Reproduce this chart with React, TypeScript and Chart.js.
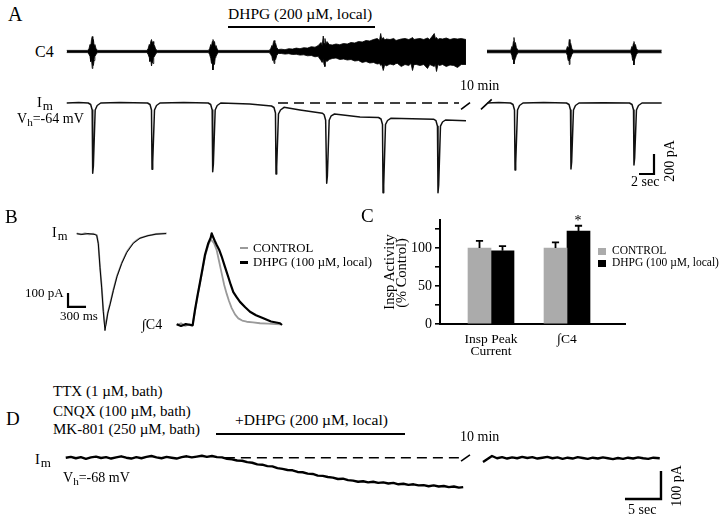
import React, { useEffect, useRef } from 'react';
import { Chart, registerables } from 'chart.js';
Chart.register(...registerables);

const SERIF = '"Liberation Serif", "Times New Roman", Times, serif';

// ================= Panel A (time in s, current in pA, C4 in a.u.) =================
const imA_left: [number, number][] = [
  [0.9, 0], [2.5, 5], [3.76, 0], [4.09, -15], [4.29, -70], [4.36, -703], [4.45, -630], [4.69, -70], [4.96, -25], [5.43, 0],
  [8.0, 5], [11.67, 0], [12.0, -15], [12.2, -70], [12.27, -663], [12.36, -590], [12.6, -70], [12.87, -25], [13.33, 0],
  [16.5, 5], [19.76, 0], [20.09, -15], [20.29, -70], [20.36, -687], [20.45, -610], [20.69, -70], [20.96, -25], [21.43, 0],
  [25.3, -10], [28.2, -30], [28.53, -45], [28.73, -100], [28.8, -710], [28.89, -640], [29.13, -110], [29.4, -70], [29.87, -43],
  [32.0, -70], [35.0, -103], [35.22, -118], [35.42, -173], [35.56, -803], [35.65, -730], [35.89, -173], [36.16, -128], [36.6, -110],
  [40.0, -140], [42.47, -145], [42.8, -160], [43.0, -215], [43.07, -897], [43.16, -820], [43.4, -215], [43.67, -175], [44.1, -153],
  [49.8, -162], [50.13, -177], [50.33, -232], [50.4, -897], [50.49, -820], [50.73, -232], [51.0, -190], [51.4, -170],
  [54.13, -178],
];
const imA_right: [number, number][] = [
  [56.93, 0], [58.5, 4], [60.07, 0], [60.4, -15], [60.6, -70], [60.67, -670], [60.76, -600], [61.0, -70], [61.27, -25], [61.73, 0],
  [64.5, 4], [67.53, 0], [67.87, -15], [68.07, -70], [68.13, -660], [68.22, -590], [68.46, -70], [68.73, -25], [69.2, 0],
  [72.5, 3], [75.93, 0], [76.27, -15], [76.47, -70], [76.53, -620], [76.62, -550], [76.86, -70], [77.13, -25], [77.6, 0],
  [80.22, 0],
];
const imA_dashed: [number, number][] = [[29.07, 0], [53.2, 0]];
const imA_break1: [number, number][] = [[53.47, -63], [54.67, 3]];
const imA_break2: [number, number][] = [[56.13, -63], [57.56, 37]];
const scaleA: [number, number][] = [[77.2, -710], [79.2, -710], [79.2, -510]];

// C4 envelope: [time, upper, lower]
const c4A_left: [number, number, number][] = [
  [0.9, 1.1, -1.1], [3.7, 1.1, -1.1], [3.87, 3, -3], [4.0, 7, -5], [4.1, 5, -10], [4.2, 12, -8], [4.3, 15, -17], [4.38, 9, -12],
  [4.45, 12, -14], [4.55, 6, -9], [4.65, 7, -5], [4.8, 3, -3], [5.0, 1.1, -1.1],
  [11.6, 1.1, -1.1], [11.75, 3, -3], [11.9, 7, -6], [12.0, 5, -10], [12.1, 10, -8], [12.2, 12, -14.5], [12.3, 8, -10],
  [12.4, 10, -12], [12.5, 5, -6], [12.6, 6, -5], [12.75, 2.5, -2.5], [12.95, 1.1, -1.1],
  [19.8, 1.1, -1.1], [19.95, 3, -3], [20.1, 7, -7], [20.2, 5, -12], [20.3, 10, -9], [20.4, 12, -18.5], [20.5, 8, -11],
  [20.6, 10, -13], [20.7, 5, -6], [20.8, 6, -5], [20.95, 2.5, -2.5], [21.15, 1.1, -1.1],
  [27.9, 1.1, -1.1], [28.1, 3, -3], [28.25, 6, -5], [28.35, 5, -9], [28.45, 9, -7], [28.55, 11, -12], [28.65, 7, -9],
  [28.75, 8, -8], [28.9, 4, -4], [29.1, 2, -2],
  [29.5, 2.3, -2], [30.0, 1.8, -2.6], [30.5, 2.8, -2.2], [31.0, 2.4, -3.0], [31.5, 3.4, -2.8], [32.0, 2.8, -3.6], [32.5, 3.8, -3.3],
  [33.0, 3.4, -4.3], [33.5, 4.8, -4.0], [34.0, 4.3, -5.3], [34.4, 5.8, -4.8], [34.8, 9, -9], [34.95, 6, -11], [35.1, 15.5, -8],
  [35.2, 8, -13], [35.33, 13, -15], [35.45, 7, -9], [35.6, 10, -10], [35.9, 7, -8], [36.3, 6.5, -7], [36.8, 7.5, -6.5],
  [37.3, 6.8, -8], [37.8, 8, -7.5], [38.3, 7.5, -8.5], [38.8, 9, -8], [39.3, 8.5, -9.5], [39.8, 10, -9], [40.3, 9.5, -11],
  [40.8, 11, -10], [41.3, 10.5, -11.5], [41.8, 12, -11], [42.3, 13, -12.5], [42.6, 11, -12], [42.76, 18, -14], [42.9, 12, -13],
  [43.1, 14, -19], [43.3, 11.5, -13], [43.5, 12.5, -14.5], [44.0, 12, -12.5], [44.5, 13, -13.5], [44.8, 11, -12],
  [45.0, 11.5, -12], [45.5, 12.5, -15], [46.0, 13, -13], [46.5, 12, -14], [46.8, 13, -12], [47.0, 14, -19], [47.2, 12, -13],
  [47.5, 12.5, -13], [48.0, 13, -14], [48.5, 12, -13], [49.0, 13.5, -17], [49.3, 12, -13], [49.6, 15, -14], [49.9, 18, -15],
  [50.05, 13, -13], [50.2, 14, -20], [50.4, 12, -13], [50.6, 13, -14], [51.0, 12.5, -13], [51.5, 13.5, -15], [52.0, 12, -13.5],
  [52.5, 13, -14], [53.0, 12.5, -16], [53.5, 13, -13], [54.13, 12, -13],
];
const c4A_right: [number, number, number][] = [
  [56.93, 1.3, -1.3], [60.1, 1.3, -1.3], [60.25, 5, -4], [60.35, 4, -8], [60.45, 10, -6], [60.53, 14, -12.5], [60.62, 7, -9],
  [60.72, 9, -7], [60.85, 4, -4], [61.05, 1.3, -1.3],
  [67.5, 1.3, -1.3], [67.65, 5, -4], [67.75, 4, -9], [67.85, 9, -7], [67.91, 12, -13], [68.0, 7, -8], [68.1, 8, -6],
  [68.25, 3, -3], [68.45, 1.3, -1.3],
  [76.1, 1.3, -1.3], [76.25, 5, -4], [76.35, 4, -9], [76.45, 8, -7], [76.53, 10, -13.5], [76.62, 6, -8], [76.72, 7, -6],
  [76.85, 3, -3], [77.05, 1.3, -1.3],
  [80.22, 1.3, -1.3],
];

// ================= Panel B (time in ms, current in pA, integrated C4 in % of peak) =================
const imB_ctrl: [number, number][] = [
  [112, 5], [180, -2], [250, 4], [320, -3], [390, 2], [445, -7], [472, -66], [500, -234], [528, -376], [555, -543], [583, -660],
  [600, -640], [630, -560], [667, -500], [722, -400], [783, -300], [862, -207], [945, -129], [1000, -95], [1055, -64],
  [1110, -45], [1167, -29], [1230, -20], [1300, -11], [1370, -6], [1433, 0], [1520, 3], [1612, 4],
];
const imB_dhpg: [number, number][] = [
  [112, 2], [200, -3], [300, 3], [400, -2], [445, -9], [472, -70], [500, -240], [528, -385], [555, -555], [583, -690],
  [600, -645], [630, -565], [667, -505], [722, -405], [783, -305], [862, -210], [945, -133], [1055, -66], [1167, -30],
  [1300, -12], [1433, -1], [1600, 3],
];
const intC4_ctrl: [number, number][] = [
  [1778, 0], [1850, 2], [1920, -1], [2000, 1], [2040, -1], [2083, 15], [2125, 32], [2167, 47], [2210, 62], [2250, 77],
  [2305, 90], [2345, 96], [2362, 95], [2400, 92], [2445, 84], [2490, 70], [2528, 58], [2570, 45], [2612, 35], [2650, 27],
  [2695, 19], [2750, 12], [2805, 7.5], [2870, 5], [2945, 3.7], [3050, 3], [3167, 2], [3300, 1.5], [3500, 0.8],
];
const intC4_dhpg: [number, number][] = [
  [1778, 1], [1850, -1], [1930, 1], [2010, 0], [2045, 0], [2083, 17], [2125, 33], [2167, 48], [2210, 64], [2250, 79],
  [2305, 92], [2345, 98], [2362, 103], [2378, 100], [2410, 95], [2445, 90], [2490, 84], [2528, 77], [2580, 66], [2638, 54],
  [2680, 45], [2722, 37], [2780, 31], [2833, 26], [2920, 20], [3000, 15], [3100, 11], [3222, 7.5], [3350, 4], [3500, 2], [3533, 0],
];
const scaleB: [number, number][] = [[-33, -421], [-33, -521], [267, -521]];

// ================= Panel C (bar chart) =================
const catPos = [1, 2];
const catLabels: string[][] = [['Insp Peak', 'Current'], ['\u222BC4']];
const controlVals = [100, 100];
const controlErr = [9.6, 7.5];
const dhpgVals = [96.4, 122.4];
const dhpgErr = [6.2, 7.0];
const yTicksC = [0, 25, 50, 75, 100, 125];
const yLabelsC = [0, 50, 100];

// ================= Panel D (time in s, current in pA) =================
const imD_left: [number, number][] = [
  [0.8, 0], [1.5, 3], [2.2, -2], [2.9, 2], [3.6, -4], [4.3, 1], [5.0, 4], [5.7, -1], [6.4, 2], [7.1, -3], [7.8, 1], [8.5, 5],
  [9.2, 0], [9.9, -3], [10.6, 2], [11.3, -2], [12.0, 3], [12.7, 6], [13.4, 1], [14.1, -2], [14.8, 3], [15.5, 0], [16.2, -3],
  [16.9, 2], [17.6, 5], [18.3, 1], [19.0, 4], [19.7, 7], [20.4, 3], [21.1, 6], [21.8, 2], [22.5, 1],
  [23.2, -4], [23.9, -6], [24.6, -10], [25.3, -11], [26.0, -16], [26.7, -18], [27.4, -24], [28.1, -25], [28.8, -30],
  [29.5, -31], [30.2, -37], [30.9, -40], [31.6, -44], [32.3, -45], [33.0, -51], [33.7, -52], [34.4, -57], [35.1, -58],
  [35.8, -64], [36.5, -65], [37.2, -69], [37.9, -71], [38.6, -76], [39.3, -75], [40.0, -80], [40.7, -82], [41.4, -86],
  [42.1, -84], [42.8, -88], [43.5, -86], [44.2, -90], [44.9, -88], [45.6, -92], [46.3, -90], [47.0, -95], [47.7, -93],
  [48.4, -97], [49.1, -95], [49.8, -99], [50.5, -98], [51.2, -102], [51.9, -99], [52.6, -103], [53.3, -101], [54.0, -105],
  [54.7, -103], [55.4, -107], [56.0, -105],
];
const imD_right: [number, number][] = [
  [58.75, -15], [60.0, 6], [60.7, -2], [61.4, 2], [62.1, -3], [62.8, 1], [63.5, -2], [64.2, 3], [64.9, -1], [65.6, 2],
  [66.3, -3], [67.0, 0], [67.7, 3], [68.4, -2], [69.1, 1], [69.8, -4], [70.5, 0], [71.2, -3], [71.9, 2], [72.6, -1],
  [73.3, -4], [74.0, 0], [74.7, -3], [75.4, 1], [76.1, -2], [76.8, -5], [77.5, -1], [78.2, -4], [78.9, 0], [79.6, -3],
  [80.3, 1], [81.0, -2], [81.7, -4], [82.4, 0], [83.3, -2],
];
const imD_dashed: [number, number][] = [[22.9, 0], [55.4, 0]];
const imD_break: [number, number][] = [[55.7, -12], [56.94, 10]];
const scaleD: [number, number][] = [[78.47, -147.5], [83.47, -147.5], [83.47, -47.5]];

// ---------------- helpers ----------------
const ln = (data: any, opts: any = {}) => ({
  data, borderColor: '#000', borderWidth: 1.5, pointRadius: 0, fill: false, tension: 0, ...opts,
});

const baseOpts = (scales: any) => ({
  animation: false,
  responsive: false,
  maintainAspectRatio: false,
  events: [],
  layout: { padding: 0 },
  plugins: { legend: { display: false }, tooltip: { enabled: false } },
  elements: { point: { radius: 0 }, line: { tension: 0, borderJoinStyle: 'round', borderCapStyle: 'butt' } },
  scales,
});

function Txt({ x, base, size, children, style }: any) {
  return (
    <div style={{ position: 'absolute', left: x, top: base - 0.8375 * size, fontSize: size, lineHeight: 1, fontFamily: SERIF, whiteSpace: 'nowrap', color: '#000', ...style }}>
      {children}
    </div>
  );
}
function RotTxt({ cx, cy, size, children }: any) {
  return (
    <div style={{ position: 'absolute', left: cx, top: cy, fontSize: size, lineHeight: 1, fontFamily: SERIF, whiteSpace: 'nowrap', color: '#000', transform: 'translate(-50%, -50%) rotate(-90deg)' }}>
      {children}
    </div>
  );
}
function Sub({ children, size = '0.9em', down = 3, ml = 1 }: any) {
  return <span style={{ fontSize: size, position: 'relative', top: down, marginLeft: ml }}>{children}</span>;
}
function Rect({ x, y, w, h, color = '#000' }: any) {
  return <div style={{ position: 'absolute', left: x, top: y, width: w, height: h, background: color }} />;
}

export default function App() {
  const refA = useRef<HTMLCanvasElement>(null);
  const refB = useRef<HTMLCanvasElement>(null);
  const refC = useRef<HTMLCanvasElement>(null);
  const refD = useRef<HTMLCanvasElement>(null);

  useEffect(() => {
    const charts: any[] = [];

    // ---- Panel A ----
    const hiL = c4A_left.map(([t, h]) => [t, h]);
    const loL = c4A_left.map(([t, , l]) => [t, l]);
    const hiR = c4A_right.map(([t, h]) => [t, h]);
    const loR = c4A_right.map(([t, , l]) => [t, l]);
    charts.push(new Chart(refA.current as any, {
      type: 'line',
      data: {
        datasets: [
          ln(hiL, { yAxisID: 'yC4', borderWidth: 0.8, fill: '+1', backgroundColor: '#000' }),
          ln(loL, { yAxisID: 'yC4', borderWidth: 0.8 }),
          ln(hiR, { yAxisID: 'yC4', borderWidth: 0.8, fill: '+1', backgroundColor: '#000' }),
          ln(loR, { yAxisID: 'yC4', borderWidth: 0.8 }),
          ln(imA_left, { yAxisID: 'yIm', borderWidth: 1.5, borderColor: '#111' }),
          ln(imA_right, { yAxisID: 'yIm', borderWidth: 1.5, borderColor: '#111' }),
          ln(imA_dashed, { yAxisID: 'yIm', borderWidth: 1.4, borderDash: [10, 6] }),
          ln(imA_break1, { yAxisID: 'yIm', borderWidth: 1.6 }),
          ln(imA_break2, { yAxisID: 'yIm', borderWidth: 1.6 }),
          ln(scaleA, { yAxisID: 'yIm', borderWidth: 2.2, borderJoinStyle: 'miter' }),
        ],
      } as any,
      options: baseOpts({
        x: { type: 'linear', display: false, min: 0, max: 620 / 7.5 },
        yC4: { type: 'linear', display: false, min: -148.5, max: 21.5 },
        yIm: { type: 'linear', display: false, min: -970, max: 730 },
      }) as any,
    }));

    // ---- Panel B ----
    charts.push(new Chart(refB.current as any, {
      type: 'line',
      data: {
        datasets: [
          ln(imB_dhpg, { yAxisID: 'yIm', borderWidth: 1.0, borderColor: '#000' }),
          ln(imB_ctrl, { yAxisID: 'yIm', borderWidth: 1.8, borderColor: '#9a9a9a' }),
          ln(intC4_dhpg, { yAxisID: 'yInt', borderWidth: 2.2, borderColor: '#000' }),
          ln(intC4_ctrl, { yAxisID: 'yInt', borderWidth: 1.8, borderColor: '#9a9a9a' }),
          ln(scaleB, { yAxisID: 'yIm', borderWidth: 2.2, borderJoinStyle: 'miter' }),
        ],
      } as any,
      options: baseOpts({
        x: { type: 'linear', display: false, min: -166.7, max: 3833.3 },
        yIm: { type: 'linear', display: false, min: -721.4, max: 64.3 },
        yInt: { type: 'linear', display: false, min: -11.2, max: 112.4 },
      }) as any,
    }));

    // ---- Panel C ----
    const errPlugin = {
      id: 'errbars',
      afterDatasetsDraw(chart: any) {
        const ctx = chart.ctx;
        const ys = chart.scales.y;
        const sets = [[controlVals, controlErr], [dhpgVals, dhpgErr]];
        sets.forEach(([vals, errs], i) => {
          const meta = chart.getDatasetMeta(i);
          meta.data.forEach((el: any, j: number) => {
            const x = el.x;
            const top = ys.getPixelForValue(vals[j]);
            const ey = ys.getPixelForValue(vals[j] + errs[j]);
            ctx.save();
            ctx.strokeStyle = '#000';
            ctx.lineWidth = 1.8;
            ctx.beginPath();
            ctx.moveTo(x, top);
            ctx.lineTo(x, ey);
            ctx.moveTo(x - 3.6, ey);
            ctx.lineTo(x + 3.6, ey);
            ctx.stroke();
            ctx.restore();
          });
        });
      },
    };
    charts.push(new Chart(refC.current as any, {
      type: 'bar',
      data: {
        datasets: [
          { label: 'CONTROL', data: catPos.map((x, i) => ({ x, y: controlVals[i] })), backgroundColor: '#ababab', barThickness: 23 },
          { label: 'DHPG (100 \u00B5M, local)', data: catPos.map((x, i) => ({ x, y: dhpgVals[i] })), backgroundColor: '#000', barThickness: 23 },
        ],
      } as any,
      options: {
        animation: false,
        responsive: false,
        maintainAspectRatio: false,
        events: [],
        layout: { padding: { top: 15, right: 5, left: 0, bottom: 0 } },
        plugins: { legend: { display: false }, tooltip: { enabled: false } },
        scales: {
          x: {
            type: 'linear', min: 0.329, max: 2.763, offset: false,
            afterBuildTicks: (s: any) => { s.ticks = catPos.map((v) => ({ value: v })); },
            afterFit: (s: any) => { s.height = 36; },
            ticks: {
              autoSkip: false, maxRotation: 0, minRotation: 0, padding: 2, color: '#000',
              font: { family: SERIF, size: 13.5, lineHeight: 0.85 },
              callback: (v: any) => catLabels[catPos.indexOf(v)] ?? '',
            },
            grid: { display: false, offset: false },
            border: { display: true, color: '#000', width: 2 },
          },
          y: {
            type: 'linear', min: 0, max: 137,
            afterBuildTicks: (s: any) => { s.ticks = yTicksC.map((v) => ({ value: v })); },
            afterFit: (s: any) => { s.width = 80; },
            ticks: {
              padding: 3, color: '#000',
              font: { family: SERIF, size: 14 },
              callback: (v: any) => (yLabelsC.includes(v) ? String(v) : ''),
            },
            grid: { drawOnChartArea: false, drawTicks: true, tickLength: 5, color: '#000', lineWidth: 1.6 },
            border: { display: true, color: '#000', width: 2 },
          },
        },
      } as any,
      plugins: [errPlugin],
    }));

    // ---- Panel D ----
    charts.push(new Chart(refD.current as any, {
      type: 'line',
      data: {
        datasets: [
          ln(imD_left, { borderWidth: 2.4 }),
          ln(imD_right, { borderWidth: 2.4 }),
          ln(imD_dashed, { borderWidth: 1.4, borderDash: [10, 6] }),
          ln(imD_break, { borderWidth: 1.6 }),
          ln(scaleD, { borderWidth: 2.4, borderJoinStyle: 'miter' }),
        ],
      } as any,
      options: baseOpts({
        x: { type: 'linear', display: false, min: 0, max: 625 / 7.2 },
        y: { type: 'linear', display: false, min: -193.9, max: 63.2 },
      }) as any,
    }));

    return () => charts.forEach((c) => c.destroy());
  }, []);

  const cv = (ref: any, x: number, y: number, w: number, h: number) => (
    <canvas ref={ref} width={w} height={h} style={{ position: 'absolute', left: x, top: y, width: w, height: h }} />
  );

  return (
    <div style={{ position: 'absolute', left: 0, top: 0, width: 720, height: 521, background: '#fff', overflow: 'hidden', fontFamily: SERIF }}>
      {cv(refA, 60, 30, 620, 170)}
      {cv(refB, 60, 225, 240, 110)}
      {cv(refC, 360, 205, 270, 155)}
      {cv(refD, 60, 440, 625, 72)}

      {/* Panel A */}
      <Txt x={8} base={21} size={20}>A</Txt>
      <Txt x={228} base={19} size={15.5}>DHPG (200 µM, local)</Txt>
      <Rect x={228} y={25.5} w={147} h={2.5} />
      <Txt x={35} base={57} size={16}>C4</Txt>
      <Txt x={37} base={107} size={14.5}>I<Sub>m</Sub></Txt>
      <Txt x={17} base={124} size={14}>V<Sub size="0.8em" down={3} ml={0}>h</Sub>=-64 mV</Txt>
      <Txt x={460} base={91} size={14}>10 min</Txt>
      <Txt x={631} base={187} size={14}>2 sec</Txt>
      <RotTxt cx={670.3} cy={161} size={14}>200 pA</RotTxt>

      {/* Panel B */}
      <Txt x={5} base={223} size={19}>B</Txt>
      <Txt x={52} base={238} size={14}>I<Sub>m</Sub></Txt>
      <Txt x={25} base={297} size={13}>100 pA</Txt>
      <Txt x={60} base={320} size={13}>300 ms</Txt>
      <Txt x={142} base={330} size={14}>∫C4</Txt>
      <Rect x={240} y={247} w={8} h={2} color="#9a9a9a" />
      <Txt x={253} base={252.5} size={12.8}>CONTROL</Txt>
      <Rect x={240} y={260.5} w={8} h={3} />
      <Txt x={253} base={267} size={12.8}>DHPG (100 µM, local)</Txt>

      {/* Panel C */}
      <Txt x={361} base={222} size={19}>C</Txt>
      <RotTxt cx={389} cy={272} size={14.5}>Insp Activity</RotTxt>
      <RotTxt cx={400.5} cy={272.5} size={14.5}>(% Control)</RotTxt>
      <Txt x={574.5} base={226} size={14}>*</Txt>
      <Rect x={598} y={248} w={8} h={6.5} color="#ababab" />
      <Txt x={612} base={255} size={11.5}>CONTROL</Txt>
      <Rect x={598} y={260} w={8} h={7} />
      <Txt x={612} base={267} size={11.5}>DHPG (100 µM, local)</Txt>

      {/* Panel D */}
      <Txt x={53} base={397} size={15}>TTX (1 µM, bath)</Txt>
      <Txt x={6} base={425} size={19}>D</Txt>
      <Txt x={53} base={416.5} size={15}>CNQX (100 µM, bath)</Txt>
      <Txt x={53} base={435} size={15}>MK-801 (250 µM, bath)</Txt>
      <Txt x={235} base={425} size={15.5}>+DHPG (200 µM, local)</Txt>
      <Rect x={216} y={432.5} w={189} h={2.5} />
      <Txt x={35} base={464} size={14.5}>I<Sub>m</Sub></Txt>
      <Txt x={63} base={483} size={14}>V<Sub size="0.8em" down={3} ml={0}>h</Sub>=-68 mV</Txt>
      <Txt x={460} base={442} size={14}>10 min</Txt>
      <Txt x={628} base={515} size={14}>5 sec</Txt>
      <RotTxt cx={677.3} cy={486} size={14}>100 pA</RotTxt>
    </div>
  );
}
